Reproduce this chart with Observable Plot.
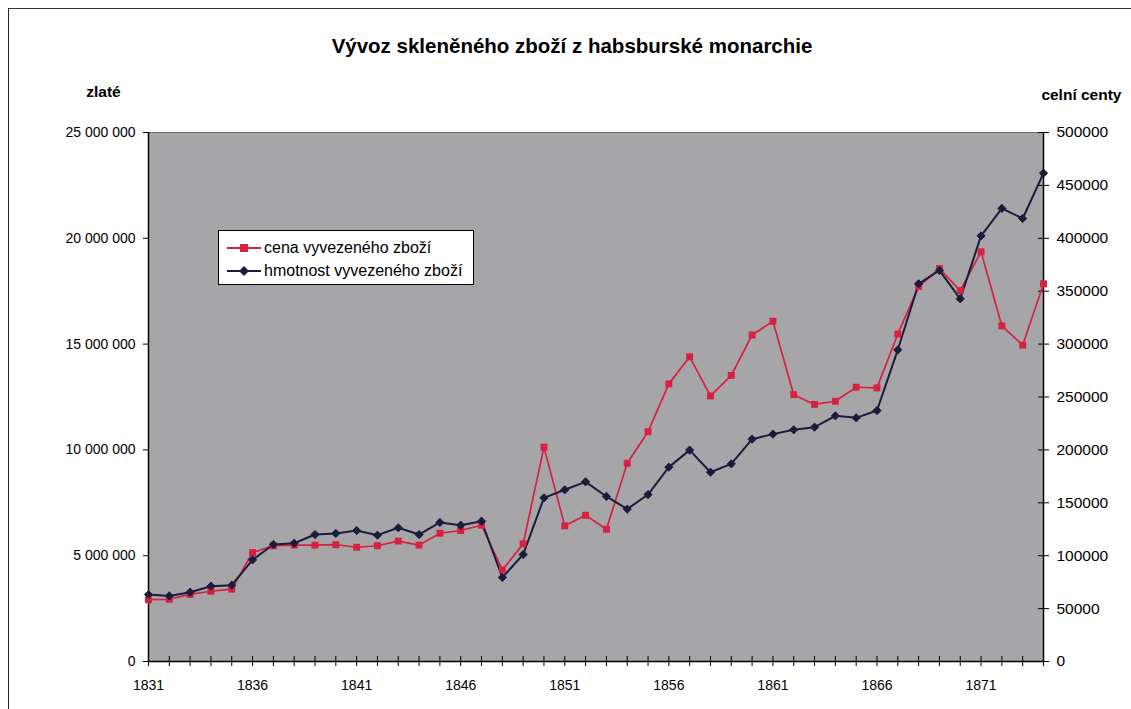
<!DOCTYPE html>
<html>
<head>
<meta charset="utf-8">
<script src="https://cdn.jsdelivr.net/npm/d3@7"></script>
<script src="https://cdn.jsdelivr.net/npm/@observablehq/plot@0.6"></script>
<style>
  html, body { margin: 0; padding: 0; background: #fff; }
  #wrap { position: relative; width: 1131px; height: 709px; overflow: hidden; font-family: "Liberation Sans", Arial, sans-serif; }
  #border { position: absolute; left: 8px; top: 8px; width: 1200px; height: 800px; border-left: 1.5px solid #222; border-top: 1.5px solid #333; }
  #chart { position: absolute; left: 0; top: 0; }
  #legend { position: absolute; left: 218px; top: 230px; width: 256px; height: 55px; background: #fff; border: 1px solid #000; box-sizing: border-box; font-size: 16px; color: #000; }
  .item { position: absolute; left: 8px; height: 20px; display: flex; align-items: center; white-space: nowrap; }
  .item svg { margin-right: 3px; }
</style>
</head>
<body>
<div id="wrap">
  <div id="border"></div>
  <div id="chart"></div>
  <div id="legend"></div>
</div>
<script>
// ---- data ----
const years = d3.range(1831, 1875);
// cena vyvezeného zboží (zlaté)
const cena = [2920000, 2940000, 3170000, 3320000, 3420000, 5150000, 5470000, 5500000, 5500000, 5520000,
  5400000, 5470000, 5690000, 5500000, 6060000, 6190000, 6440000, 4330000, 5560000, 10130000,
  6410000, 6910000, 6250000, 9370000, 10860000, 13120000, 14400000, 12550000, 13520000, 15430000,
  16080000, 12610000, 12150000, 12300000, 12960000, 12930000, 15480000, 17720000, 18570000, 17530000,
  19360000, 15860000, 14950000, 17850000];
// hmotnost vyvezeného zboží (celní centy)
const hmotnost = [63300, 62000, 65500, 71200, 72100, 96100, 110600, 111800, 120000, 121000,
  123800, 119400, 126400, 120000, 131400, 128800, 132600, 79400, 101100, 154700,
  162300, 169800, 156000, 144000, 157800, 183700, 199800, 178900, 186800, 210100,
  214900, 219000, 221500, 232200, 230300, 237200, 294600, 357000, 369600, 342800,
  402300, 428200, 418700, 461600];
const leftTicks = [0, 5000000, 10000000, 15000000, 20000000, 25000000];
const rightTickLabels = [0, 50000, 100000, 150000, 200000, 250000, 300000, 350000, 400000, 450000, 500000];
const xLabelYears = [1831, 1836, 1841, 1846, 1851, 1856, 1861, 1866, 1871];
const seriesNames = ["cena vyvezeného zboží", "hmotnost vyvezeného zboží"];
const title = "Vývoz skleněného zboží z habsburské monarchie";
const leftUnit = "zlaté";
const rightUnit = "celní centy";

// ---- build ----
const ratio = 25000000 / 500000; // right axis scaled onto left axis
const rightTicks = rightTickLabels.map(d => d * ratio);
const cenaData = years.map((y, i) => ({year: y, value: cena[i]}));
const hmotData = years.map((y, i) => ({year: y, value: hmotnost[i] * ratio}));

const RED = "#d8203f";
const NAVY = "#1b1b3e";
const spaceFmt = d => d3.format(",")(d).replace(/,/g, " ");

const W = 1131, H = 709, ML = 148, MR = 88, MT = 132, MB = 48;
const fw = W - ML - MR, fh = H - MT - MB;

const chart = Plot.plot({
  width: W, height: H,
  marginLeft: ML, marginRight: MR, marginTop: MT, marginBottom: MB,
  style: {fontFamily: "'Liberation Sans', Arial, sans-serif", fontSize: "14px", background: "transparent", color: "#000", overflow: "visible"},
  x: {domain: [1831, 1874]},
  y: {domain: [0, 25000000]},
  marks: [
    Plot.frame({fill: "#a6a6a9", stroke: "#6a6a6a"}),
    Plot.axisY({ticks: leftTicks, tickSize: 5, tickPadding: 8, tickFormat: spaceFmt, label: null, fontSize: 14}),
    Plot.axisY({anchor: "right", ticks: rightTicks, tickSize: 5, tickPadding: 8, tickFormat: d => String(Math.round(d / ratio)), label: null, fontSize: 15.5}),
    Plot.ruleY(rightTicks, {insetLeft: fw - 5, stroke: "#000"}),
    Plot.axisX({ticks: years, tickSize: 5, tickPadding: 14, tickFormat: d => xLabelYears.includes(d) ? String(d) : "", label: null, fontSize: 14}),
    Plot.ruleX(years, {insetTop: fh - 5, stroke: "#000"}),
    Plot.ruleY([0], {stroke: "#000", strokeWidth: 1.5}),
    Plot.ruleX([1831, 1874], {stroke: "#000", strokeWidth: 1.5}),
    Plot.line(cenaData, {x: "year", y: "value", stroke: RED, strokeWidth: 1.7}),
    Plot.line(hmotData, {x: "year", y: "value", stroke: NAVY, strokeWidth: 2}),
    Plot.dot(cenaData, {x: "year", y: "value", symbol: "square", r: 3.9, fill: RED, stroke: "none"}),
    Plot.dot(hmotData, {x: "year", y: "value", symbol: "diamond2", r: 3.7, fill: NAVY, stroke: NAVY, strokeWidth: 1}),
    Plot.text([title], {frameAnchor: "top", lineAnchor: "middle", dx: -24, dy: -86, fontSize: 20.5, fontWeight: "bold", fill: "#000"}),
    Plot.text([leftUnit], {frameAnchor: "top-left", lineAnchor: "middle", textAnchor: "middle", dx: -45, dy: -40, fontSize: 15.5, fontWeight: "bold", fill: "#000"}),
    Plot.text([rightUnit], {frameAnchor: "top-right", lineAnchor: "middle", textAnchor: "end", dx: 78, dy: -37, fontSize: 15.5, fontWeight: "bold", fill: "#000"})
  ]
});
document.getElementById("chart").appendChild(chart);

// legend
const legend = document.getElementById("legend");
const colors = [RED, NAVY];
const markers = [
  `<rect x="13" y="6" width="8" height="8" fill="${RED}"/>`,
  `<path d="M17 5 L22 10 L17 15 L12 10 Z" fill="${NAVY}"/>`
];
seriesNames.forEach((name, i) => {
  const el = document.createElement("div");
  el.className = "item";
  el.style.top = (7 + i * 23) + "px";
  el.innerHTML = `<svg width="34" height="20"><line x1="0" y1="10" x2="34" y2="10" stroke="${colors[i]}" stroke-width="1.8"/>${markers[i]}</svg><span>${name}</span>`;
  legend.appendChild(el);
});
</script>
</body>
</html>
